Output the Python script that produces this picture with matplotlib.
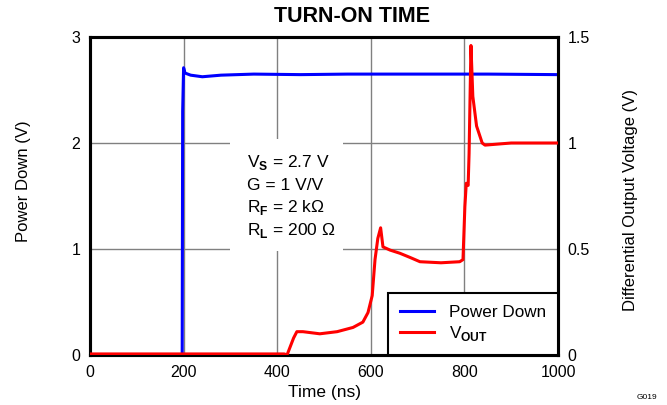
import matplotlib
matplotlib.use("Agg")
from matplotlib import pyplot as plt
from matplotlib.patches import Rectangle

plt.rcParams["font.family"] = "Liberation Sans"
plt.rcParams["mathtext.fontset"] = "custom"
plt.rcParams["mathtext.rm"] = "Liberation Sans"
plt.rcParams["mathtext.bf"] = "Liberation Sans:bold"

# Power Down (left axis, V)
t_pd = [0, 197, 198, 200, 203, 215, 240, 280, 350, 450, 550, 650, 750, 850, 1000]
v_pd = [0, 0, 2.3, 2.71, 2.66, 2.64, 2.625, 2.64, 2.65, 2.645, 2.65, 2.65, 2.65, 2.65, 2.645]

# VOUT (right axis, V)
t_out = [0, 415, 421, 435, 442, 455, 491, 528, 562, 583, 594, 603, 609, 615, 621, 626,
         641, 662, 684, 705, 750, 790, 797, 801, 804, 808, 810, 814, 818, 826, 838, 844,
         900, 1000]
v_out = [0.005, 0.005, 0.0, 0.08, 0.11, 0.11, 0.10, 0.11, 0.13, 0.155, 0.2, 0.28, 0.45,
         0.55, 0.60, 0.51, 0.495, 0.48, 0.46, 0.44, 0.435, 0.44, 0.45, 0.7, 0.81, 0.8,
         0.95, 1.46, 1.22, 1.08, 1.0, 0.99, 1.0, 1.0]

x_ticks = [0, 200, 400, 600, 800, 1000]
left_ticks = [0, 1, 2, 3]
right_ticks = [0, 0.5, 1, 1.5]
right_labels = ["0", "0.5", "1", "1.5"]

conditions = [r"V$_\mathbf{S}$ = 2.7 V", "G = 1 V/V",
              r"R$_\mathbf{F}$ = 2 k$\Omega$", r"R$_\mathbf{L}$ = 200 $\Omega$"]

W, H = 667, 405
fig = plt.figure(figsize=(W / 100, H / 100), dpi=100)
ax = fig.add_axes([90 / W, 1 - 355 / H, 468 / W, 318 / H])
ax2 = ax.twinx()

ax.set_xlim(0, 1000)
ax.set_ylim(0, 3)
ax2.set_ylim(0, 1.5)
ax.set_xticks(x_ticks)
ax.set_yticks(left_ticks)
ax2.set_yticks(right_ticks)
ax2.set_yticklabels(right_labels)

ax.grid(True, color="#808080", lw=1.0, zorder=0)
ax.set_axisbelow(True)
for a in (ax, ax2):
    a.tick_params(length=0, labelsize=11.5, pad=7)
    for s in a.spines.values():
        s.set_linewidth(2.2)

l1, = ax.plot(t_pd, v_pd, color="#0000ff", lw=2.2, label="Power Down", zorder=3)
l2, = ax2.plot(t_out, v_out, color="#ff0000", lw=2.2, label=r"V$_\mathbf{OUT}$", zorder=3)

fig.text(352 / W, 1 - 17 / H, "TURN-ON TIME", fontsize=15.5, fontweight="bold",
         ha="center", va="center")
fig.text(325 / W, 1 - 393 / H, "Time (ns)", fontsize=12.5, ha="center", va="center")
fig.text(24 / W, 1 - 181 / H, "Power Down (V)", fontsize=12, rotation=90,
         ha="center", va="center")
fig.text(630 / W, 1 - 200 / H, "Differential Output Voltage (V)", fontsize=12,
         rotation=90, ha="center", va="center")

ax.add_patch(Rectangle((0.299, 0.328), 0.242, 0.35, transform=ax.transAxes,
                       facecolor="white", edgecolor="none", zorder=2))
for i, line in enumerate(conditions):
    ax.text(0.335, 0.605 - i * 0.071, line, transform=ax.transAxes, fontsize=12.5,
            va="center", ha="left", zorder=4)

leg = ax2.legend(handles=[l1, l2], loc="lower right", bbox_to_anchor=(1, 0),
                 borderaxespad=0, fancybox=False, framealpha=1, edgecolor="black",
                 fontsize=12.3, handlelength=1.95, handletextpad=0.9, borderpad=0.7,
                 labelspacing=0.25)
leg.get_frame().set_linewidth(1.5)

fig.text(0.985, 0.01, "G019", fontsize=6, ha="right", va="bottom")

fig.savefig("out.png", dpi=100)
